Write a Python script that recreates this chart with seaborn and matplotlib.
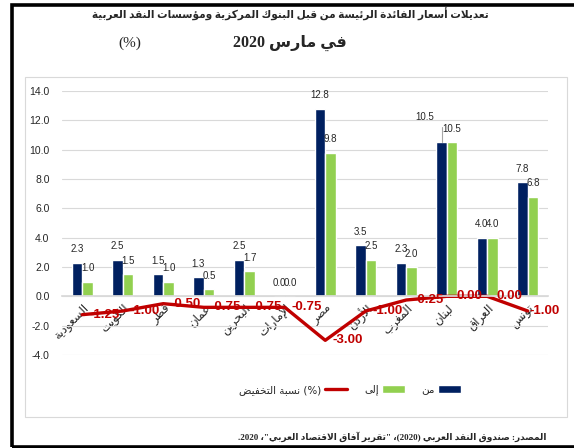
import numpy as np
import pandas as pd
import matplotlib
matplotlib.use("Agg")
import matplotlib.pyplot as plt
import seaborn as sns
from matplotlib.patches import Patch, Rectangle
from matplotlib.lines import Line2D

countries = ["السعودية", "الكويت", "قطر", "عمان", "البحرين", "الإمارات",
             "مصر", "الأردن", "المغرب", "لبنان", "العراق", "تونس"]
rate_from = [2.3, 2.5, 1.5, 1.3, 2.5, 0.0, 12.8, 3.5, 2.3, 10.5, 4.0, 7.8]
rate_to = [1.0, 1.5, 1.0, 0.5, 1.7, 0.0, 9.8, 2.5, 2.0, 10.5, 4.0, 6.8]
cut = [-1.25, -1.00, -0.50, -0.75, -0.75, -0.75, -3.00, -1.00, -0.25, 0.00, 0.00, -1.00]
yticks = [-4, -2, 0, 2, 4, 6, 8, 10, 12, 14]

NAVY = "#002060"
GREEN = "#92D050"
RED = "#C00000"

# matplotlib has no arabic shaping, so do contextual forms by hand
AR = {'ء': (0xFE80, 1), 'آ': (0xFE81, 2), 'أ': (0xFE83, 2), 'ؤ': (0xFE85, 2),
      'إ': (0xFE87, 2), 'ئ': (0xFE89, 4), 'ا': (0xFE8D, 2), 'ب': (0xFE8F, 4),
      'ة': (0xFE93, 2), 'ت': (0xFE95, 4), 'ث': (0xFE99, 4), 'ج': (0xFE9D, 4),
      'ح': (0xFEA1, 4), 'خ': (0xFEA5, 4), 'د': (0xFEA9, 2), 'ذ': (0xFEAB, 2),
      'ر': (0xFEAD, 2), 'ز': (0xFEAF, 2), 'س': (0xFEB1, 4), 'ش': (0xFEB5, 4),
      'ص': (0xFEB9, 4), 'ض': (0xFEBD, 4), 'ط': (0xFEC1, 4), 'ظ': (0xFEC5, 4),
      'ع': (0xFEC9, 4), 'غ': (0xFECD, 4), 'ف': (0xFED1, 4), 'ق': (0xFED5, 4),
      'ك': (0xFED9, 4), 'ل': (0xFEDD, 4), 'م': (0xFEE1, 4), 'ن': (0xFEE5, 4),
      'ه': (0xFEE9, 4), 'و': (0xFEED, 2), 'ى': (0xFEEF, 2), 'ي': (0xFEF1, 4)}
LAM_ALEF = {'ا': 0xFEFB, 'أ': 0xFEF7, 'إ': 0xFEF9, 'آ': 0xFEF5}


def ar(s):
    toks = []
    i = 0
    while i < len(s):
        c = s[i]
        if c == 'ل' and i + 1 < len(s) and s[i + 1] in LAM_ALEF:
            toks.append((LAM_ALEF[s[i + 1]], 2, True))
            i += 2
            continue
        if c in AR:
            toks.append((AR[c][0], AR[c][1], True))
        else:
            toks.append((c, 0, False))
        i += 1
    out = []
    for k, (base, n, is_ar) in enumerate(toks):
        if not is_ar:
            out.append(base)
            continue
        prev = k > 0 and toks[k - 1][2] and toks[k - 1][1] == 4 and n > 1
        nxt = n == 4 and k + 1 < len(toks) and toks[k + 1][2] and toks[k + 1][1] > 1
        off = 3 if (prev and nxt) else 1 if prev else 2 if nxt else 0
        out.append(chr(base + off))
    return "".join(out)[::-1]


sns.set_theme(style="white")
plt.rcParams["font.family"] = ["DejaVu Sans"]

fig = plt.figure(figsize=(5.74, 4.48), dpi=100)
ax = fig.add_axes([62 / 574, 1 - 355 / 448, 486 / 574, 264 / 448])

df = pd.DataFrame({
    "country": countries * 2,
    "value": rate_from + rate_to,
    "series": ["from"] * len(countries) + ["to"] * len(countries),
})
sns.barplot(data=df, x="country", y="value", hue="series",
            palette={"from": NAVY, "to": GREEN}, width=0.52, saturation=1,
            legend=False, ax=ax)
pos = np.arange(len(countries))
sns.lineplot(x=pos, y=cut, color=RED, linewidth=2.4, sort=False, ax=ax)

numfont = ["Liberation Sans Narrow", "Liberation Sans", "DejaVu Sans"]
for ci, cont in enumerate(ax.containers):
    labels = ax.bar_label(cont, fmt="%.1f", padding=6, fontsize=7,
                          color="#262626", family=numfont)
    if ci == 0:
        # lebanon label pulled up with a leader line
        labels[9].set_text("")
        ax.annotate("10.5", xy=(pos[9] - 0.12, rate_from[9]),
                    xytext=(pos[9] - 0.55, rate_from[9] + 1.75),
                    fontsize=7, color="#262626", family=numfont,
                    ha="center", va="center",
                    arrowprops=dict(arrowstyle="-", color="#A6A6A6", lw=0.8,
                                    shrinkA=8, shrinkB=0,
                                    connectionstyle="angle,angleA=0,angleB=90,rad=0"))

for i, v in enumerate(cut):
    dx = 12 if i == len(cut) - 1 else 16
    ax.annotate(f"{v:.2f}", xy=(pos[i], v), xytext=(dx, 0),
                textcoords="offset points", ha="center", va="center",
                fontsize=9.5, color=RED, fontweight="bold", family=numfont)

ax.set_xlim(-0.5, len(countries) - 0.5)
ax.set_ylim(-4, 14)
ax.set_yticks(yticks)
ax.set_yticklabels([f"{t:.1f}" for t in yticks], fontsize=7.5,
                   color="#262626", family=numfont)
ax.yaxis.grid(True, color="#D9D9D9", linewidth=0.8)
ax.set_axisbelow(True)
for s in ["top", "right", "left"]:
    ax.spines[s].set_visible(False)
ax.spines["bottom"].set_position(("data", 0))
ax.spines["bottom"].set_color("#D9D9D9")
ax.tick_params(axis="both", length=0)
ax.tick_params(axis="y", pad=9)
ax.tick_params(axis="x", pad=4)
ax.set_xticks(pos)
ax.set_xticklabels([ar(c) for c in countries], rotation=45, ha="right",
                   rotation_mode="anchor", fontsize=8.5, color="#262626")
ax.set_xlabel("")
ax.set_ylabel("")

handles = [Line2D([0], [0], color=RED, lw=2.4),
           Patch(facecolor=GREEN), Patch(facecolor=NAVY)]
labels = [ar("نسبة التخفيض") + " (%)", ar("إلى"), ar("من")]
fig.legend(handles, labels, loc="center", bbox_to_anchor=(350 / 574, 1 - 390 / 448),
           ncol=3, frameon=False, markerfirst=False, fontsize=7.5,
           handlelength=2.2, handleheight=0.8, columnspacing=1.6,
           handletextpad=0.3)

titlefont = ["Liberation Serif", "DejaVu Sans"]
fig.text(290 / 574, 1 - 14 / 448, ar("تعديلات أسعار الفائدة الرئيسة من قبل البنوك المركزية ومؤسسات النقد العربية"),
         ha="center", va="center", fontsize=7.6, fontweight="bold", family=titlefont)
fig.text(290 / 574, 1 - 43 / 448, "2020 " + ar("في مارس"),
         ha="center", va="center", fontsize=11.5, fontweight="bold", family=titlefont)
fig.text(130 / 574, 1 - 43 / 448, "(%)", ha="center", va="center",
         fontsize=11, family=titlefont)

source = (".2020 ،\"" + ar("تقرير آفاق الاقتصاد العربي") + "\" ،(2020) "
          + ar("صندوق النقد العربي") + " :" + ar("المصدر"))
fig.text(547 / 574, 1 - 437 / 448, source, ha="right", va="center",
         fontsize=6.5, fontweight="bold", family=titlefont)

fig.patches.append(Rectangle((25 / 574, 1 - 417 / 448), 542 / 574, 340 / 448,
                             transform=fig.transFigure, fill=False,
                             edgecolor="#D9D9D9", lw=0.8))
fig.patches.append(Rectangle((11.5 / 574, 1.5 / 448), 580 / 574, 441 / 448,
                             transform=fig.transFigure, fill=False,
                             edgecolor="black", lw=2.6))

fig.savefig("out.png", dpi=100)
